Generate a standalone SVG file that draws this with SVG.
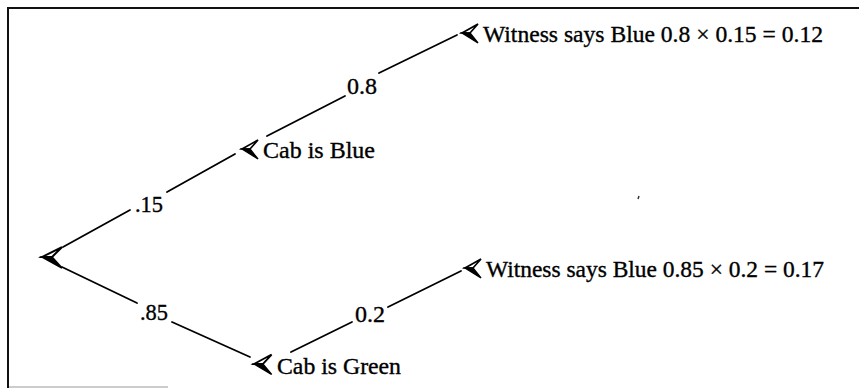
<svg xmlns="http://www.w3.org/2000/svg" xmlns:xlink="http://www.w3.org/1999/xlink" width="859" height="388" viewBox="0 0 859 388">
<style>
.t{font-family:"Liberation Serif","Times New Roman",serif;font-size:23px;fill:#000;stroke:#000;stroke-width:0.35}
.c{stroke:#000;stroke-width:1.8;fill:none;stroke-linecap:round}
</style>
<defs>
<g id="mk">
<path d="M0,0 L16,-9 L8,0 Z" fill="#fff" stroke="#000" stroke-width="1.7" stroke-linejoin="miter"/>
<path d="M0,0 L8,0 L16,10 Z" fill="#000" stroke="#000" stroke-width="1.4"/>
</g>
</defs>
<rect width="859" height="388" fill="#fff"/>
<g id="frame">
<line x1="7" y1="8" x2="859" y2="8" stroke="#111" stroke-width="2"/>
<line x1="8" y1="7" x2="8" y2="388" stroke="#111" stroke-width="2"/>
<line x1="9" y1="387" x2="168" y2="387" stroke="#bbb" stroke-width="1.5"/>
</g>
<g id="connectors">
<line class="c" x1="63" y1="247" x2="130" y2="210"/>
<line class="c" x1="167" y1="192" x2="235" y2="154"/>
<line class="c" x1="62" y1="267" x2="137" y2="303"/>
<line class="c" x1="172" y1="322" x2="250" y2="357"/>
<line class="c" x1="267" y1="136" x2="345" y2="96"/>
<line class="c" x1="379" y1="73" x2="457" y2="35"/>
<line class="c" x1="291" y1="352" x2="352" y2="322"/>
<line class="c" x1="388" y1="307" x2="461" y2="271"/>
<text class="t" x="135" y="212" textLength="28" lengthAdjust="spacingAndGlyphs">.15</text>
<text class="t" x="140" y="320" textLength="28" lengthAdjust="spacingAndGlyphs">.85</text>
<text class="t" x="347" y="94" textLength="30" lengthAdjust="spacingAndGlyphs">0.8</text>
<text class="t" x="355" y="322" textLength="30" lengthAdjust="spacingAndGlyphs">0.2</text>
</g>
<g id="root">
<use xlink:href="#mk" transform="translate(42,257) scale(1.25,1.1)"/>
</g>
<g id="cab-blue">
<use xlink:href="#mk" transform="translate(242,149)"/>
<text class="t" x="263" y="158" textLength="112" lengthAdjust="spacingAndGlyphs">Cab is Blue</text>
</g>
<g id="cab-green">
<use xlink:href="#mk" transform="translate(254,364) scale(1.1,1.05)"/>
<text class="t" x="277" y="374" textLength="124" lengthAdjust="spacingAndGlyphs">Cab is Green</text>
</g>
<g id="witness-1">
<use xlink:href="#mk" transform="translate(462,33)"/>
<text class="t" x="483" y="42" textLength="340" lengthAdjust="spacingAndGlyphs">Witness says Blue 0.8 × 0.15 = 0.12</text>
</g>
<g id="witness-2">
<use xlink:href="#mk" transform="translate(465,268)"/>
<text class="t" x="486" y="277" textLength="338" lengthAdjust="spacingAndGlyphs">Witness says Blue 0.85 × 0.2 = 0.17</text>
</g>
<line x1="639" y1="196" x2="638" y2="199" stroke="#333" stroke-width="1.5"/>
</svg>
